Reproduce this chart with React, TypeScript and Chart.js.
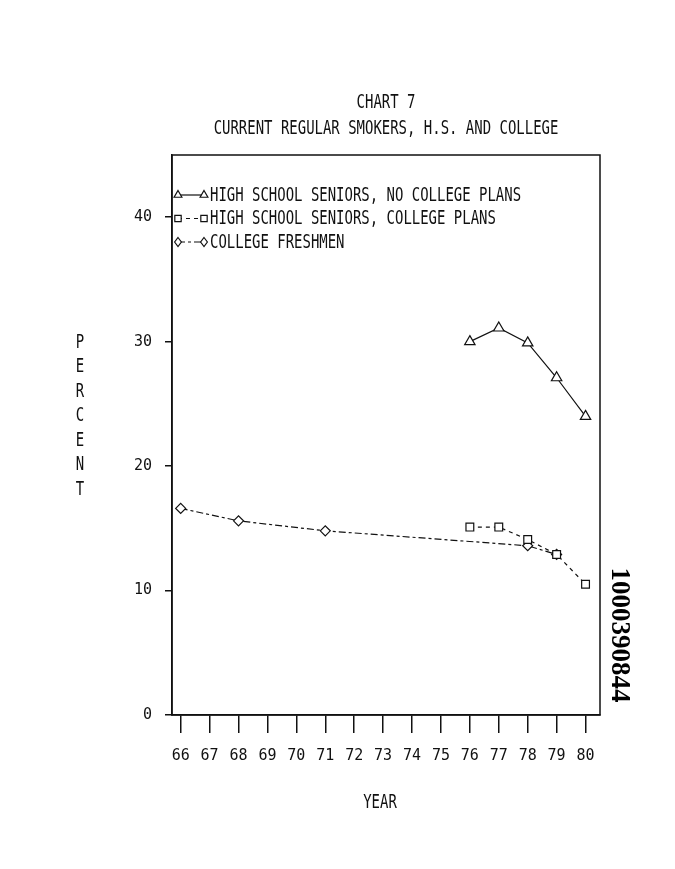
import React, { useEffect, useRef } from "react";
import { Chart, registerables } from "chart.js";

Chart.register(...registerables);

// ---------- data ----------
const years = [66, 67, 68, 69, 70, 71, 72, 73, 74, 75, 76, 77, 78, 79, 80];
const yTicks = [0, 10, 20, 30, 40];

const titleText = "CHART 7";
const subtitleText = "CURRENT REGULAR SMOKERS, H.S. AND COLLEGE";
const xAxisTitle = "YEAR";
const yAxisTitle = "PERCENT";
const stampText = "1000390844";

const seriesLabels = [
  "HIGH SCHOOL SENIORS, NO COLLEGE PLANS",
  "HIGH SCHOOL SENIORS, COLLEGE PLANS",
  "COLLEGE FRESHMEN",
];

const noCollegeYears = [76, 77, 78, 79, 80];
const noCollegeValues = [30.0, 31.1, 29.9, 27.1, 24.0];

const collegePlansYears = [76, 77, 78, 79, 80];
const collegePlansValues = [15.1, 15.1, 14.1, 12.9, 10.5];

const freshmenYears = [66, 68, 71, 78, 79];
const freshmenValues = [16.6, 15.6, 14.8, 13.6, 12.9];

// ---------- styling ----------
const MONO = "'DejaVu Sans Mono', 'Liberation Mono', monospace";
const TEXT_FONT = `19px ${MONO}`;
const SX = 0.735; // horizontal condensing of plotter-style text
const INK = "#111";

const toPoints = (xs: number[], ys: number[]) => xs.map((x, i) => ({ x, y: ys[i] }));

const seriesStyles = [
  { dash: [] as number[], pointStyle: "triangle", radius: 6 },
  { dash: [4, 4], pointStyle: "rect", radius: 5.5 },
  { dash: [7, 3, 3, 3], pointStyle: "rectRot", radius: 5 },
];

function drawMarker(ctx: CanvasRenderingContext2D, style: string, x: number, y: number, r: number) {
  ctx.beginPath();
  if (style === "triangle") {
    ctx.moveTo(x, y - r);
    ctx.lineTo(x + r * 0.866, y + r * 0.5);
    ctx.lineTo(x - r * 0.866, y + r * 0.5);
    ctx.closePath();
  } else if (style === "rect") {
    const s = r * 0.707;
    ctx.rect(x - s, y - s, 2 * s, 2 * s);
  } else {
    ctx.moveTo(x, y - r);
    ctx.lineTo(x + r * 0.75, y);
    ctx.lineTo(x, y + r);
    ctx.lineTo(x - r * 0.75, y);
    ctx.closePath();
  }
  ctx.fillStyle = "#fff";
  ctx.fill();
  ctx.stroke();
}

function condensedText(
  ctx: CanvasRenderingContext2D,
  s: string,
  x: number,
  y: number,
  align: CanvasTextAlign
) {
  ctx.save();
  ctx.translate(x, y);
  ctx.scale(SX, 1);
  ctx.font = TEXT_FONT;
  ctx.textAlign = align;
  ctx.textBaseline = "middle";
  ctx.fillStyle = INK;
  ctx.fillText(s, 0, 0);
  ctx.restore();
}

const decorPlugin = {
  id: "decor",
  beforeDraw(chart: any) {
    const { ctx } = chart;
    ctx.save();
    ctx.fillStyle = "#fff";
    ctx.fillRect(0, 0, chart.width, chart.height);
    ctx.restore();
  },
  afterDraw(chart: any) {
    const { ctx, chartArea } = chart;
    const { left, right, top, bottom } = chartArea;
    const cx = (left + right) / 2;
    ctx.save();
    // frame
    ctx.strokeStyle = INK;
    ctx.lineWidth = 1.5;
    ctx.strokeRect(left, top, right - left, bottom - top);

    condensedText(ctx, titleText, cx, 103, "center");
    condensedText(ctx, subtitleText, cx, 129, "center");

    // x axis title
    condensedText(ctx, xAxisTitle, 380, 803, "center");

    // y axis title, stacked letters
    yAxisTitle.split("").forEach((ch, i) => {
      condensedText(ctx, ch, 80, 343 + i * 24.5, "center");
    });

    // legend
    seriesLabels.forEach((label, i) => {
      const y = 195 + i * 23.5;
      const st = seriesStyles[i];
      ctx.strokeStyle = INK;
      ctx.lineWidth = 1.2;
      ctx.setLineDash(st.dash);
      ctx.beginPath();
      ctx.moveTo(178, y);
      ctx.lineTo(204, y);
      ctx.stroke();
      ctx.setLineDash([]);
      drawMarker(ctx, st.pointStyle, 178, y, 4.5);
      drawMarker(ctx, st.pointStyle, 204, y, 4.5);
      condensedText(ctx, label, 210, y + 1, "left");
    });

    // archive stamp
    ctx.save();
    ctx.translate(619, 635);
    ctx.rotate(Math.PI / 2);
    ctx.font = `bold 27px 'Liberation Serif', serif`;
    ctx.textAlign = "center";
    ctx.textBaseline = "middle";
    ctx.fillStyle = "#000";
    ctx.fillText(stampText, 0, 0);
    ctx.restore();

    ctx.restore();
  },
};

export default function App() {
  const ref = useRef<HTMLCanvasElement | null>(null);

  useEffect(() => {
    document.body.style.margin = "0";
    const canvas = ref.current;
    if (!canvas) return;
    const series = [
      toPoints(noCollegeYears, noCollegeValues),
      toPoints(collegePlansYears, collegePlansValues),
      toPoints(freshmenYears, freshmenValues),
    ];
    const chart = new Chart(canvas, {
      type: "line",
      data: {
        datasets: series.map((pts, i) => ({
          label: seriesLabels[i],
          data: pts,
          borderColor: INK,
          borderWidth: 1.2,
          borderDash: seriesStyles[i].dash,
          pointStyle: seriesStyles[i].pointStyle as any,
          pointRadius: seriesStyles[i].radius,
          pointBackgroundColor: "#fff",
          pointBorderColor: INK,
          pointBorderWidth: 1.2,
          tension: 0,
          fill: false,
        })),
      },
      options: {
        animation: false,
        responsive: false,
        devicePixelRatio: 1,
        layout: { padding: { top: 155, right: 75, left: 0, bottom: 0 } },
        plugins: {
          legend: { display: false },
          title: { display: false },
          tooltip: { enabled: false },
        },
        scales: {
          x: {
            type: "linear",
            min: 65.7,
            max: 80.5,
            afterBuildTicks: (s: any) => {
              s.ticks = years.map((v) => ({ value: v }));
            },
            afterFit: (s: any) => {
              s.height = 154;
            },
            grid: { drawOnChartArea: false, drawTicks: true, tickLength: 18, color: INK, lineWidth: 1.5 },
            border: { display: true, color: INK, width: 1.5 },
            ticks: {
              color: INK,
              font: { family: MONO, size: 15 },
              padding: 14,
              maxRotation: 0,
              autoSkip: false,
              callback: (v: any) => String(v),
            },
          },
          y: {
            type: "linear",
            min: 0,
            max: 45,
            afterBuildTicks: (s: any) => {
              s.ticks = yTicks.map((v) => ({ value: v }));
            },
            afterFit: (s: any) => {
              s.width = 172;
            },
            grid: { drawOnChartArea: false, drawTicks: true, tickLength: 7, color: INK, lineWidth: 1.5 },
            border: { display: true, color: INK, width: 1.5 },
            ticks: {
              color: INK,
              font: { family: MONO, size: 15 },
              padding: 13,
              callback: (v: any) => String(v),
            },
          },
        },
      },
      plugins: [decorPlugin],
    } as any);
    return () => chart.destroy();
  }, []);

  return <canvas ref={ref} width={675} height={869} style={{ display: "block" }} />;
}
